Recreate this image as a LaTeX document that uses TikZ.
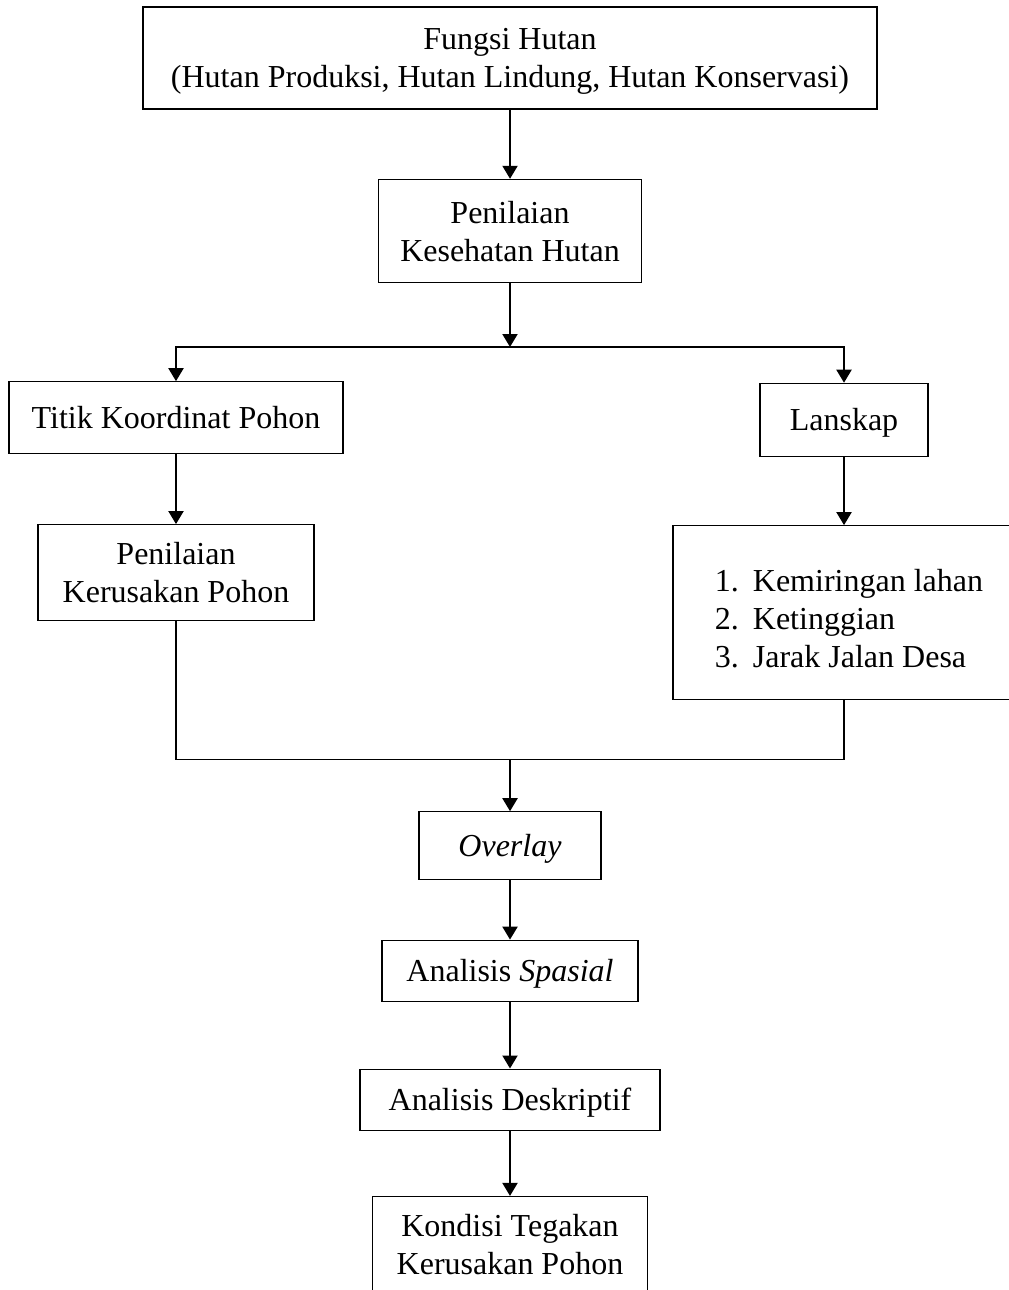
\documentclass[tikz,border=0pt]{standalone}
\usepackage{fontspec}
\setmainfont{Liberation Serif}
\usetikzlibrary{arrows.meta}

\newcommand{\butir}[1]{\hspace*{5pt}\makebox[19pt][l]{#1}}

\begin{document}
\begin{tikzpicture}[
			base/.style={draw, line width=0.6pt, font=\fontsize{16}{19}\selectfont, align=center, inner sep=2pt, text depth=0pt},
			block/.style={base, minimum width=#1},
			listblock/.style={base, align=left, minimum width=171pt, minimum height=87pt},
			conn/.style={line width=0.7pt},
			>={Triangle[length=6.5pt, width=7.5pt]},
			every path/.append style={line width=1pt},
		]

		\useasboundingbox (0pt,0pt) rectangle (504pt,-645pt);

		\node[block=367pt, minimum height=51pt] (fungsi) at (255pt,-29pt) {Fungsi Hutan\\(Hutan Produksi, Hutan Lindung, Hutan Konservasi)};
		\node[block=131.5pt, minimum height=51.5pt, below of=fungsi, yshift=-58pt] (kesehatan) {Penilaian\\Kesehatan Hutan};
		\node[block=167pt, minimum height=36pt, below of=kesehatan, xshift=-167pt, yshift=-65pt] (titik) {Titik Koordinat Pohon};
		\node[block=84pt, minimum height=36.5pt, below of=kesehatan, xshift=167pt, yshift=-66pt] (lanskap) {Lanskap};
		\node[block=138pt, minimum height=48pt, below of=titik, yshift=-49pt] (kerusakan) {Penilaian\\Kerusakan Pohon};
		\node[listblock, below of=lanskap, yshift=-68pt] (kriteria) {\rule{0pt}{17pt}\butir{1.}Kemiringan lahan\\\butir{2.}Ketinggian\\\butir{3.}Jarak Jalan Desa};
		\node[block=91pt, minimum height=34pt, below of=kesehatan, yshift=-279pt] (overlay) {\textit{Overlay}};
		\node[block=128pt, minimum height=30.5pt, below of=overlay, yshift=-34pt] (spasial) {Analisis \textit{Spasial}};
		\node[block=150pt, minimum height=30.5pt, below of=spasial, yshift=-36pt] (deskriptif) {Analisis Deskriptif};
		\node[block=137.5pt, minimum height=48pt, below of=deskriptif, yshift=-44pt] (kondisi) {Kondisi Tegakan\\Kerusakan Pohon};

		\coordinate (cabang) at ([yshift=-32pt]kesehatan.south);
		\coordinate (gabung) at ([yshift=26pt]overlay.north);

		\draw[->] (fungsi) -- (kesehatan);
		\draw[->] (kesehatan) -- (cabang);
		\draw[->] (cabang) -| (titik);
		\draw[->] (cabang) -| (lanskap);
		\draw[->] (titik) -- (kerusakan);
		\draw[->] (lanskap) -- (kriteria);
		\draw[conn] (kerusakan.south) |- (gabung) -| (kriteria.south);
		\draw[->] (gabung) -- (overlay);
		\draw[->] (overlay) -- (spasial);
		\draw[->] (spasial) -- (deskriptif);
		\draw[->] (deskriptif) -- (kondisi);

		\end{tikzpicture}
\end{document}
